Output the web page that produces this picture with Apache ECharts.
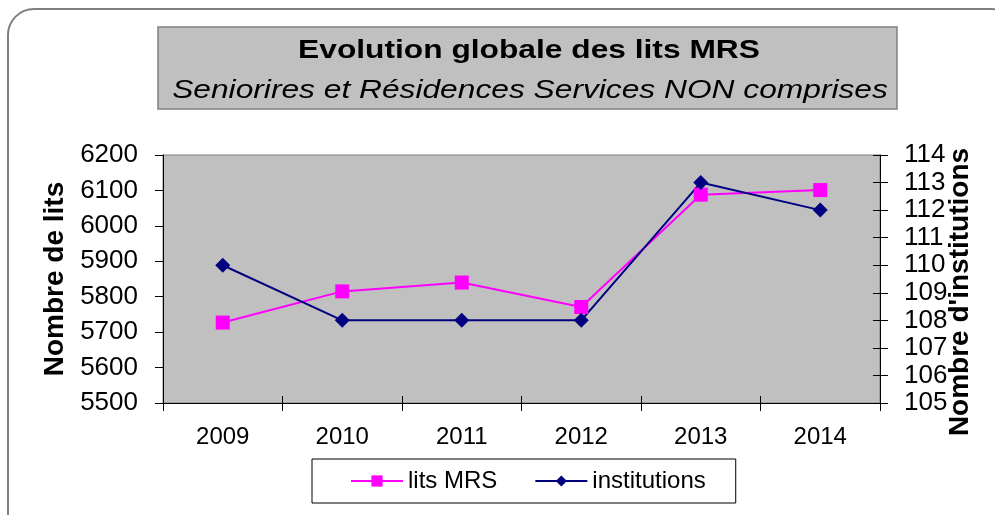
<!DOCTYPE html>
<html>
<head>
<meta charset="utf-8">
<script src="https://cdn.jsdelivr.net/npm/echarts@6/dist/echarts.min.js"></script>
<style>
html,body{margin:0;padding:0;background:#fff;}
#main{width:995px;height:515px;}
</style>
</head>
<body>
<div id="main"></div>
<script>
var years = ['2009', '2010', '2011', '2012', '2013', '2014'];
var litsMRS = [5727, 5815, 5840, 5771, 6088, 6101];
var institutions = [110, 108, 108, 108, 113, 112];

var font = '"Liberation Sans", Arial, sans-serif';

var option = {
    backgroundColor: '#fff',
    animation: false,
    graphic: [
        // cadre arrondi
        {type: 'rect', shape: {x: 8, y: 9, width: 1010, height: 530, r: 26},
         style: {fill: 'none', stroke: '#808080', lineWidth: 2}, z: 0},
        // bloc titre
        {type: 'rect', shape: {x: 158, y: 27, width: 739, height: 82},
         style: {fill: '#C0C0C0', stroke: '#808080', lineWidth: 1.5}, z: 1},
        {type: 'text', x: 529, y: 51, scaleX: 1.22, z: 2,
         style: {text: 'Evolution globale des lits MRS', x: 0, y: 0, textAlign: 'center', textVerticalAlign: 'middle',
                 font: 'bold 26px ' + font, fill: '#000'}},
        {type: 'text', x: 530, y: 91, scaleX: 1.22, z: 2,
         style: {text: 'Seniorires et Résidences Services NON comprises', x: 0, y: 0, textAlign: 'center', textVerticalAlign: 'middle',
                 font: 'italic 26px ' + font, fill: '#000'}}
    ],
    grid: {
        left: 163, right: 115, top: 155, bottom: 112,
        show: true, backgroundColor: '#C0C0C0', borderColor: '#808080', borderWidth: 1
    },
    legend: {
        left: 312, top: 459,
        padding: [10, 30, 10, 38],
        itemGap: 37,
        itemWidth: 52, itemHeight: 14,
        borderColor: '#000', borderWidth: 1,
        textStyle: {fontFamily: font, fontSize: 24, color: '#000'},
        data: ['lits MRS', 'institutions']
    },
    xAxis: [
        {
            type: 'category',
            data: years,
            boundaryGap: true,
            axisLine: {lineStyle: {color: '#000', width: 1}},
            axisTick: {show: true, length: 8, lineStyle: {color: '#000'}},
            axisLabel: {fontFamily: font, fontSize: 24, color: '#000', margin: 22}
        },
        {
            // graduations intérieures (traits qui traversent l'axe)
            type: 'category', position: 'bottom',
            data: years,
            boundaryGap: true,
            axisLine: {show: false},
            axisTick: {show: true, inside: true, length: 7, lineStyle: {color: '#000'}},
            axisLabel: {show: false}
        }
    ],
    yAxis: [
        {
            type: 'value', min: 5500, max: 6200, interval: 100,
            name: 'Nombre de lits', nameLocation: 'middle', nameGap: 94, nameMoveOverlap: false,
            nameTextStyle: {fontFamily: font, fontSize: 28, fontWeight: 'bold', color: '#000'},
            axisLine: {show: true, lineStyle: {color: '#000'}},
            axisTick: {show: true, length: 8, lineStyle: {color: '#000'}},
            axisLabel: {fontFamily: font, fontSize: 26, color: '#000', margin: 25,
                        formatter: function (v) { return String(v); }},
            splitLine: {show: false}
        },
        {
            type: 'value', min: 105, max: 114, interval: 1,
            name: "Nombre d'institutions", nameLocation: 'middle', nameGap: 66, nameMoveOverlap: false,
            nameTextStyle: {fontFamily: font, fontSize: 28, fontWeight: 'bold', color: '#000',
                            padding: [0, 26, 0, 0]},
            axisLine: {show: true, lineStyle: {color: '#000'}},
            axisTick: {show: true, length: 8, lineStyle: {color: '#000'}},
            axisLabel: {fontFamily: font, fontSize: 26, color: '#000', margin: 24},
            splitLine: {show: false}
        },
        {
            type: 'value', min: 105, max: 114, interval: 1, position: 'right',
            axisLine: {show: false},
            axisTick: {show: true, inside: true, length: 7, lineStyle: {color: '#000'}},
            axisLabel: {show: false},
            splitLine: {show: false}
        }
    ],
    series: [
        {
            name: 'lits MRS', type: 'line', xAxisIndex: 0, yAxisIndex: 0,
            data: litsMRS,
            symbol: 'rect', symbolSize: 14,
            lineStyle: {color: '#FF00FF', width: 2},
            itemStyle: {color: '#FF00FF'}
        },
        {
            name: 'institutions', type: 'line', xAxisIndex: 0, yAxisIndex: 1,
            data: institutions,
            symbol: 'diamond', symbolSize: 15,
            lineStyle: {color: '#000080', width: 2},
            itemStyle: {color: '#000080'}
        }
    ]
};

var myChart = echarts.init(document.getElementById('main'));
myChart.setOption(option);
</script>
</body>
</html>
